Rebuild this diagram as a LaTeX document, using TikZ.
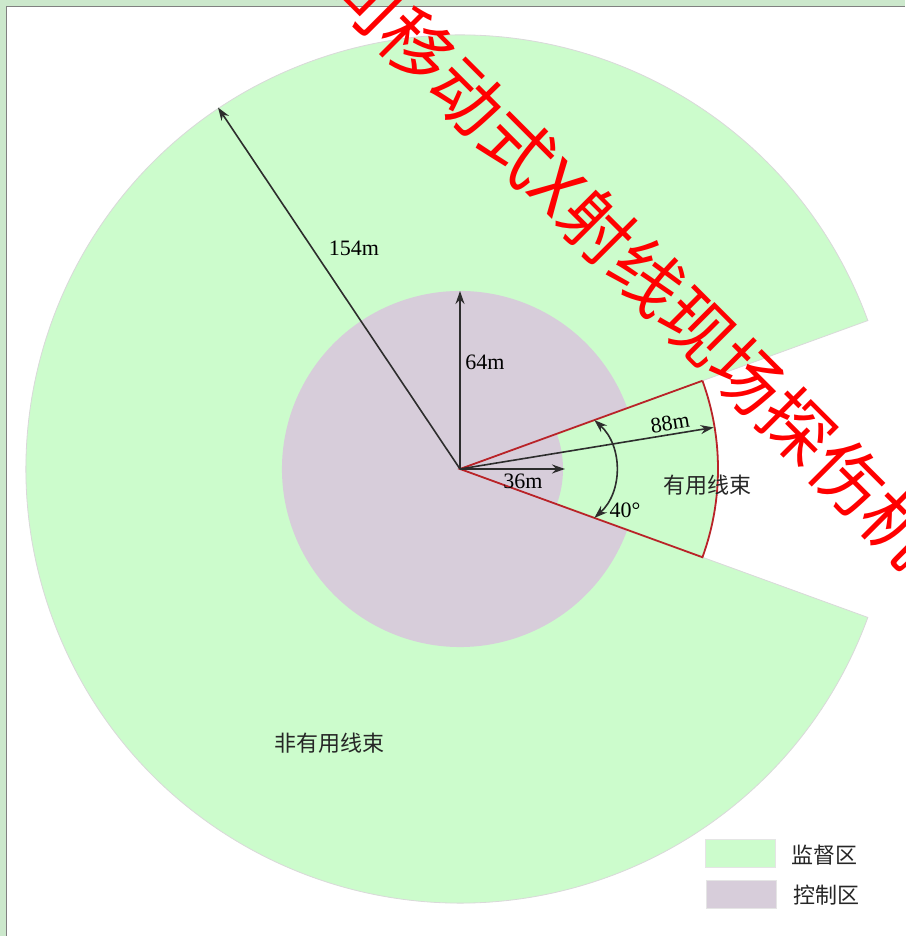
\documentclass[tikz,border=0pt]{standalone}
\usepackage{fontspec}
\setmainfont{Liberation Serif}
\newfontfamily\cjk{Noto Sans CJK SC}
\usetikzlibrary{arrows.meta,calc}
\definecolor{jiandu}{RGB}{204,252,204}
\definecolor{kongzhi}{RGB}{215,205,218}
\definecolor{pageframe}{RGB}{204,232,204}
\definecolor{beamred}{RGB}{185,35,40}
\definecolor{ink}{RGB}{45,45,45}

\begin{document}
\begin{tikzpicture}[
  x=1pt, y=1pt,
  zone/.style={draw=black!15, line width=0.8pt},
  dim/.style={ink, line width=1.6pt, -{Stealth[length=13pt,width=9pt]}},
  beam/.style={beamred, line width=1.8pt},
  lbl/.style={font=\fontsize{22}{22}\selectfont, text=black, inner sep=0pt},
  zh/.style={font=\cjk\fontsize{22}{22}\selectfont, text=black!85, inner sep=0pt},
  key/.style={draw=black!10, line width=0.6pt, minimum width=70pt, minimum height=28pt, inner sep=0pt},
  wm/.style={font=\cjk\fontsize{71}{71}\selectfont, text=red, rotate=-45, inner sep=0pt}
]
\useasboundingbox (0,0) rectangle (905,936);
\fill[pageframe] (0,0) rectangle (905,936);
\fill[white] (7,0) rectangle (905,929);
\draw[gray, line width=1.2pt] (6.5,0) -- (6.5,929.5) -- (905,929.5);

\coordinate (O) at (460,467);
\path (O) ++(20:258) coordinate (bu);
\path (O) ++(-20:258) coordinate (bl);
\path (O) ++(123.8:435) coordinate (r154);
\path (O) ++(90:178) coordinate (r64);
\path (O) ++(0:105) coordinate (r36);
\path (O) ++(9.3:257) coordinate (r88);
\path (O) ++(20:143) coordinate (a1);
\path (O) ++(-20:143) coordinate (a2);

\fill[jiandu, zone] (O) ++(20:434) arc[start angle=20, end angle=340, radius=434]
  -- ($(O)+(-20:258)$) arc[start angle=-20, end angle=20, radius=258] -- cycle;
\fill[kongzhi] (O) ++(20:178) arc[start angle=20, end angle=340, radius=178]
  -- ($(O)+(-20:103)$) arc[start angle=-20, end angle=20, radius=103] -- cycle;

\draw[beam] (bu) -- (O) -- (bl) arc[start angle=-20, end angle=20, radius=258];

\draw[dim] (O) -- (r154);
\draw[dim] (O) -- (r64);
\draw[dim] (O) -- (r36);
\draw[dim] (O) -- (r88);
\draw[dim, {Stealth[length=13pt,width=9pt]}-{Stealth[length=13pt,width=9pt]}]
  (a1) .. controls ($(O)+(163,23)$) and ($(O)+(163,-23)$) .. (a2);

\node[lbl] (t154) at (354,688) {154m};
\node[lbl] (t64) at (485,574) {64m};
\node[lbl] (t36) at (523,455) {36m};
\node[lbl, rotate=9] (t88) at (670,513) {88m};
\node[lbl] (t40) at (625,426) {40°};
\node[zh] (useful) at (707,451) {有用线束};
\node[zh] (useless) at (329,193) {非有用线束};

\node[key, fill=jiandu] (k1) at (740,82.5) {};
\node[key, fill=kongzhi] (k2) at (741,41.5) {};
\node[zh] (k1t) at (824,81) {监督区};
\node[zh] (k2t) at (826,41) {控制区};

\begin{scope}
\clip (0,0) rectangle (905,936);
\node[wm] (mark) at (633,674) {司移动式X射线现场探伤机};
\end{scope}
\end{tikzpicture}
\end{document}
